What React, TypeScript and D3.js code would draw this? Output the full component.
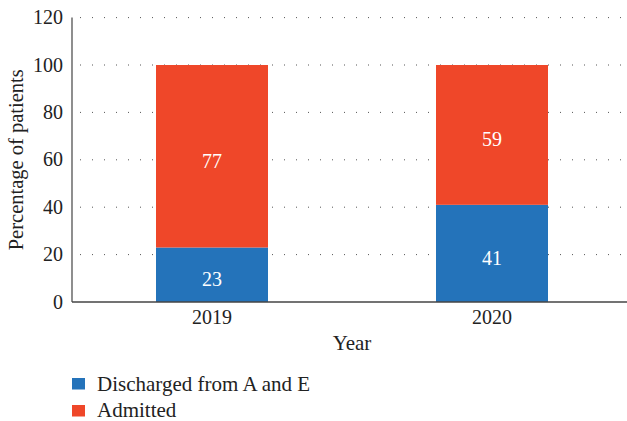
import React from "react";
import * as d3 from "d3";

const years = ["2019", "2020"];
const discharged = [23, 41];
const admitted = [77, 59];
const yTicks = [0, 20, 40, 60, 80, 100, 120];
const seriesNames = ["Discharged from A and E", "Admitted"];
const colors = ["#2473BA", "#EF4729"];

const W = 627, H = 421;
const left = 72, right = 627, top = 17.6, bottom = 302;

export default function App() {
  const x = d3.scaleBand<string>().domain(years).range([left, 632]).paddingInner(0.6).paddingOuter(0.3);
  const y = d3.scaleLinear().domain([0, 120]).range([bottom, top]);
  const font = "'Liberation Serif', 'Times New Roman', serif";
  const stacks = years.map((yr, i) => {
    const segs = [discharged[i], admitted[i]];
    let acc = 0;
    return segs.map((v, k) => {
      const y0 = acc;
      acc += v;
      return { yr, v, y0, y1: acc, k };
    });
  });
  return (
    <svg width={W} height={H} style={{ position: "absolute", left: 0, top: 0 }} fontFamily={font}>
      <rect width={W} height={H} fill="#fff" />
      {yTicks.filter((t) => t > 0).map((t) => (
        <line key={t} x1={left + 8} x2={right} y1={y(t)} y2={y(t)} stroke="#555" strokeWidth={1} strokeDasharray="1 11" />
      ))}
      {stacks.flat().map((s) => (
        <g key={s.yr + s.k}>
          <rect x={x(s.yr)} width={x.bandwidth()} y={y(s.y1)} height={y(s.y0) - y(s.y1)} fill={colors[s.k]} />
          <text x={x(s.yr)! + x.bandwidth() / 2} y={y((s.y0 + s.y1) / 2) + 11.5} textAnchor="middle" fill="#fff" fontSize={20}>{s.v}</text>
        </g>
      ))}
      <line x1={left} x2={left} y1={top} y2={bottom} stroke="#444" strokeWidth={1.2} />
      <line x1={left} x2={right} y1={bottom} y2={bottom} stroke="#444" strokeWidth={1.5} />
      {yTicks.map((t) => (
        <text key={t} x={63} y={y(t) + 6.5} textAnchor="end" fontSize={20} fill="#222">{t}</text>
      ))}
      {years.map((yr) => (
        <text key={yr} x={x(yr)! + x.bandwidth() / 2} y={324} textAnchor="middle" fontSize={20} fill="#222">{yr}</text>
      ))}
      <text x={352} y={350} textAnchor="middle" fontSize={21} fill="#222">Year</text>
      <text transform={`translate(23,${(top + bottom) / 2}) rotate(-90)`} textAnchor="middle" fontSize={20.5} fill="#222">Percentage of patients</text>
      {seriesNames.map((n, i) => (
        <g key={n}>
          <rect x={72} y={378 + i * 27} width={13} height={11.5} fill={colors[i]} />
          <text x={97} y={391 + i * 26} fontSize={21} fill="#222">{n}</text>
        </g>
      ))}
    </svg>
  );
}
